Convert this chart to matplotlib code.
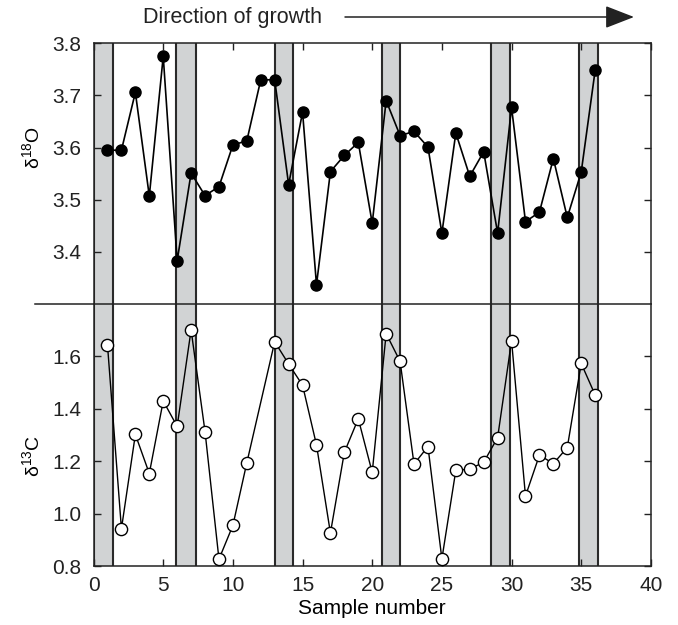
import numpy as np
import matplotlib
matplotlib.use("Agg")
import matplotlib.pyplot as plt
from matplotlib.lines import Line2D

plt.rcParams['font.family'] = ['Liberation Sans', 'DejaVu Sans']
plt.rcParams['mathtext.fontset'] = 'custom'
plt.rcParams['mathtext.rm'] = 'Liberation Sans'
plt.rcParams['mathtext.it'] = 'Liberation Sans'

# sample numbers
samples = np.arange(1, 37)

# delta 18O (filled circles)
d18o = [3.595, 3.595, 3.706, 3.507, 3.775, 3.383, 3.551, 3.508, 3.525, 3.605,
        3.613, 3.730, 3.730, 3.529, 3.668, 3.337, 3.554, 3.585, 3.610, 3.455,
        3.690, 3.623, 3.631, 3.601, 3.436, 3.628, 3.545, 3.592, 3.436, 3.677,
        3.458, 3.476, 3.579, 3.466, 3.553, 3.748]

# delta 13C (open circles), sample 12 not measured
c_samples = [1, 2, 3, 4, 5, 6, 7, 8, 9, 10, 11, 13, 14, 15, 16, 17, 18, 19, 20,
             21, 22, 23, 24, 25, 26, 27, 28, 29, 30, 31, 32, 33, 34, 35, 36]
d13c = [1.643, 0.942, 1.302, 1.153, 1.430, 1.333, 1.701, 1.313, 0.826, 0.955,
        1.194, 1.656, 1.571, 1.490, 1.262, 0.926, 1.234, 1.362, 1.157,
        1.687, 1.581, 1.189, 1.256, 0.827, 1.165, 1.170, 1.196, 1.290, 1.660,
        1.067, 1.223, 1.191, 1.252, 1.573, 1.453]

# shaded sample ranges (start, end)
band_start = [0.0, 5.92, 13.02, 20.72, 28.56, 34.85]
band_end = [1.42, 7.35, 14.31, 21.99, 29.88, 36.24]

fig = plt.figure(figsize=(6.78, 6.25), dpi=100)
ax1 = fig.add_axes([0.138, 0.5136, 0.822, 0.4171])
ax2 = fig.add_axes([0.138, 0.0944, 0.822, 0.4192])

for ax in (ax1, ax2):
    for s, e in zip(band_start, band_end):
        ax.axvspan(s, e, facecolor='#d1d3d4', edgecolor='none', zorder=0)
        ax.axvline(s, color='#2a2a2a', lw=1.5, zorder=1)
        ax.axvline(e, color='#2a2a2a', lw=1.5, zorder=1)
    ax.set_xlim(0, 40)
    for sp in ax.spines.values():
        sp.set_linewidth(1.1)
        sp.set_color('#222222')
    ax.tick_params(direction='in', length=5, width=1, labelsize=15,
                   colors='#222222', right=True)
    ax.tick_params(axis='y', pad=9)

ax1.plot(samples, d18o, color='black', lw=1.2, marker='o', ms=8,
         mfc='black', mec='black', zorder=3)
ax1.set_ylim(3.3, 3.8)
ax1.set_yticks([3.4, 3.5, 3.6, 3.7, 3.8])
ax1.set_xticks([0, 5, 10, 15, 20, 25, 30, 35, 40])
ax1.tick_params(axis='x', top=True, bottom=False, labelbottom=False)
ax1.spines['bottom'].set_visible(False)
ax1.set_ylabel('δ$^{18}$O', fontsize=14)
ax1.yaxis.set_label_coords(-0.09, 0.60)

ax2.plot(c_samples, d13c, color='black', lw=1.0, marker='o', ms=8.8,
         mfc='white', mec='black', mew=1.0, zorder=3)
ax2.set_ylim(0.8, 1.8)
ax2.set_yticks([0.8, 1.0, 1.2, 1.4, 1.6])
ax2.set_yticklabels(['0.8', '1.0', '1.2', '1.4', '1.6'])
ax2.set_xticks([0, 5, 10, 15, 20, 25, 30, 35, 40])
ax2.tick_params(axis='x', top=False, pad=7)
ax2.spines['top'].set_visible(False)
ax2.set_xlabel('Sample number', fontsize=15, labelpad=3)
ax2.set_ylabel('δ$^{13}$C', fontsize=14)
ax2.yaxis.set_label_coords(-0.09, 0.42)

# divider between the panels, running out past the left axis
fig.add_artist(Line2D([35 / 678, 651 / 678], [0.5136, 0.5136],
                      color='#222222', lw=1.1))

fig.text(143 / 678, 1 - 17 / 625, 'Direction of growth', fontsize=15.5,
         va='center', ha='left', color='#222222')
ax1.annotate('', xy=(634 / 678, 1 - 17 / 625), xytext=(345 / 678, 1 - 17 / 625),
             xycoords='figure fraction', textcoords='figure fraction',
             arrowprops=dict(arrowstyle='-|>,head_length=1.8,head_width=0.7',
                             color='#222222', lw=1.1, shrinkA=0, shrinkB=0))

fig.savefig('out.png', dpi=100)
